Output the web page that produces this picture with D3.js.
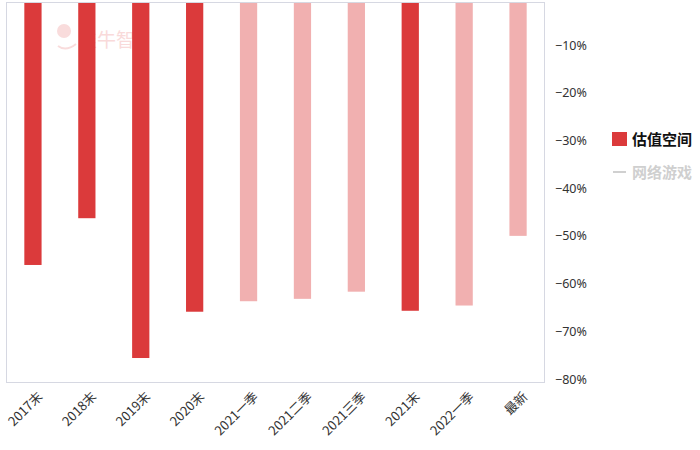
<!DOCTYPE html>
<html>
<head>
<meta charset="utf-8">
<script src="https://cdn.jsdelivr.net/npm/d3@7"></script>
<style>
  body { margin: 0; background: #fff; }
  svg { font-family: "Noto Sans CJK SC", "Noto Sans", sans-serif; }
</style>
</head>
<body>
<svg id="chart" width="700" height="450"></svg>
<script>
// categories and values
const categories = ["2017末", "2018末", "2019末", "2020末", "2021一季", "2021二季", "2021三季", "2021末", "2022一季", "最新"]
const values = [-56.1, -46.3, -75.6, -65.9, -63.7, -63.2, -61.7, -65.7, -64.6, -50.0]
// which bars are highlighted (dark) vs faded
const highlight = [true, true, true, true, false, false, false, true, false, false]
const yTicks = [-10, -20, -30, -40, -50, -60, -70, -80]

const svg = d3.select("#chart")
const plotLeft = 6, plotRight = 545, plotTop = 2, plotBottom = 383

const x = d3.scaleBand()
    .domain(categories)
    .range([plotLeft, plotRight])
    .paddingInner(0.68)
    .paddingOuter(0.34)

// 0% sits a little above the visible frame (picture is cut at the top)
const y = d3.scaleLinear()
    .domain([0, -80])
    .range([-2.7, 379])

// watermark
svg.append("text")
    .attr("x", 78)
    .attr("y", 47)
    .attr("font-size", 19)
    .attr("fill", "#f9dada")
    .text("韭牛智")
svg.append("circle")
    .attr("cx", 64).attr("cy", 31).attr("r", 7)
    .attr("fill", "#f9dcdc")
svg.append("path")
    .attr("d", "M58,46 Q66,52 76,44")
    .attr("fill", "none")
    .attr("stroke", "#f9dcdc")
    .attr("stroke-width", 2)

svg.append("clipPath").attr("id", "clip")
    .append("rect")
    .attr("x", plotLeft).attr("y", plotTop)
    .attr("width", plotRight - plotLeft).attr("height", plotBottom - plotTop)

svg.append("g")
    .attr("clip-path", "url(#clip)")
    .selectAll("rect")
    .data(values)
    .enter()
    .append("rect")
    .attr("x", (d, i) => x(categories[i]))
    .attr("y", y(0))
    .attr("width", x.bandwidth())
    .attr("height", d => y(d) - y(0))
    .attr("fill", (d, i) => highlight[i] ? "#db3a3b" : "#f1b0b0")

// frame
svg.append("rect")
    .attr("x", plotLeft + 0.5).attr("y", plotTop + 0.5)
    .attr("width", plotRight - plotLeft - 1).attr("height", plotBottom - plotTop - 1)
    .attr("fill", "none")
    .attr("stroke", "#d6d8e2")

// right axis labels
const yAxis = d3.axisRight(y)
    .tickValues(yTicks)
    .tickSize(0)
    .tickPadding(10)
    .tickFormat(d => "\u2212" + Math.abs(d) + "%")

svg.append("g")
    .attr("transform", `translate(${plotRight},0)`)
    .call(yAxis)
    .call(g => g.select(".domain").remove())
    .selectAll("text")
    .attr("font-size", 12.5)
    .attr("fill", "#333")
    .attr("font-family", "\"Noto Sans\", sans-serif")

// bottom labels, rotated
svg.append("g")
    .selectAll("text")
    .data(categories)
    .enter()
    .append("text")
    .attr("transform", d => `translate(${x(d) + x.bandwidth() / 2 + 4},${plotBottom + 8}) rotate(-45)`)
    .attr("text-anchor", "end")
    .attr("dy", "0.7em")
    .attr("font-size", 13)
    .attr("fill", "#333")
    .text(d => d)

// legend
const lg = svg.append("g").attr("transform", "translate(612,132)")
lg.append("rect")
    .attr("width", 15).attr("height", 14)
    .attr("fill", "#db3a3b")
lg.append("text")
    .attr("x", 20).attr("y", 13)
    .attr("font-size", 15)
    .attr("font-weight", "bold")
    .attr("fill", "#111")
    .text("估值空间")
lg.append("line")
    .attr("x1", 1).attr("x2", 14)
    .attr("y1", 40).attr("y2", 40)
    .attr("stroke", "#d0d0d0")
    .attr("stroke-width", 2)
lg.append("text")
    .attr("x", 20).attr("y", 46)
    .attr("font-size", 15)
    .attr("font-weight", "bold")
    .attr("fill", "#cfcfcf")
    .text("网络游戏")
</script>
</body>
</html>
